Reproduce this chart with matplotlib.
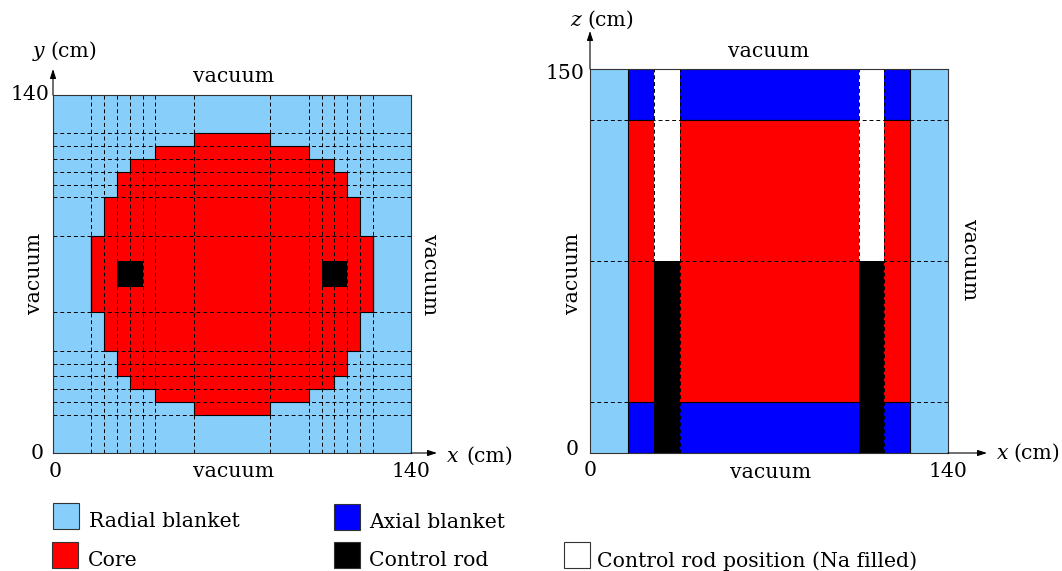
import matplotlib
matplotlib.use("Agg")
import matplotlib.pyplot as plt
from matplotlib.patches import Polygon, Rectangle

plt.rcParams["font.family"] = ["DejaVu Serif"]

W, H = 1062, 571

# geometry in cm
grid_xy = [15, 20, 25, 30, 35, 40, 55, 85, 100, 105, 110, 115, 120, 125]
step_x = [15, 20, 25, 30, 40, 55]      # core outline, one quadrant
step_y = [85, 100, 110, 115, 120, 125]
core_low = 55
rod_left = [25, 105]
rod_y = [65, 75]
rod_w = 10
size_xy = 140
size_z = 150
grid_xz = [15, 25, 35, 105, 115, 125]
grid_z = [20, 75, 130]

c_radial = "#87cefa"
c_axial = "#0000ff"
c_core = "#ff0000"
c_rod = "#000000"
c_na = "#ffffff"

legend_names = ["Radial blanket", "Core", "Axial blanket", "Control rod",
                "Control rod position (Na filled)"]
legend_colors = [c_radial, c_core, c_axial, c_rod, c_na]
legend_pos = [(53, 503), (52, 542), (334, 504), (334, 542), (564, 542)]
legend_text = [(89, 527), (88, 566), (369, 528), (369, 566), (597, 567)]

dash = (0, (4, 3))


def make_ax(left, top, right, bottom):
    ax = fig.add_axes([left / W, 1 - bottom / H, (right - left) / W, (bottom - top) / H])
    ax.set_xticks([])
    ax.set_yticks([])
    for s in ax.spines.values():
        s.set_linewidth(0.8)
        s.set_color("#333333")
    return ax


def arrow(x0, y0, x1, y1):
    over.annotate("", xy=(x1, y1), xytext=(x0, y0),
                  arrowprops=dict(arrowstyle="-|>,head_length=0.55,head_width=0.18", color="black",
                                  lw=0.8, shrinkA=0, shrinkB=0))


fig = plt.figure(figsize=(W / 100, H / 100), dpi=100)

# x-y section
ax1 = make_ax(53, 95, 411, 453)
ax1.set_xlim(0, size_xy)
ax1.set_ylim(0, size_xy)
ax1.set_facecolor(c_radial)

# build the core outline from the quadrant steps
xs, ys = [], []
for x, y, prev in zip(step_x, step_y, [core_low] + step_y[:-1]):
    xs += [x, x]
    ys += [prev, y]
quad = list(zip(xs, ys))
outline = quad + [(size_xy - x, y) for x, y in reversed(quad)]
outline += [(size_xy - x, size_xy - y) for x, y in quad]
outline += [(x, size_xy - y) for x, y in reversed(quad)]
ax1.add_patch(Polygon(outline, closed=True, fc=c_core, ec="black", lw=0.8, zorder=1))

for g in grid_xy:
    ax1.axvline(g, color="black", lw=0.7, ls=dash, zorder=2)
    ax1.axhline(g, color="black", lw=0.7, ls=dash, zorder=2)
for x in rod_left:
    ax1.add_patch(Rectangle((x, rod_y[0]), rod_w, rod_y[1] - rod_y[0], fc=c_rod, ec="none", zorder=3))

# x-z section
ax2 = make_ax(590, 69, 948, 453)
ax2.set_xlim(0, size_xy)
ax2.set_ylim(0, size_z)
ax2.set_facecolor(c_radial)

x_in, x_out = grid_xz[0], grid_xz[-1]
z_lo, z_mid, z_hi = grid_z
ax2.add_patch(Rectangle((x_in, 0), x_out - x_in, z_lo, fc=c_axial, ec="black", lw=0.8, zorder=1))
ax2.add_patch(Rectangle((x_in, z_hi), x_out - x_in, size_z - z_hi, fc=c_axial, ec="black", lw=0.8, zorder=1))
ax2.add_patch(Rectangle((x_in, z_lo), x_out - x_in, z_hi - z_lo, fc=c_core, ec="black", lw=0.8, zorder=1))
for x in rod_left:
    ax2.add_patch(Rectangle((x, z_mid), rod_w, size_z - z_mid, fc=c_na, ec="none", zorder=1.5))
    ax2.add_patch(Rectangle((x, 0), rod_w, z_mid, fc=c_rod, ec="none", zorder=3))
for g in grid_xz:
    ax2.axvline(g, color="black", lw=0.7, ls=dash, zorder=2)
for g in grid_z:
    ax2.axhline(g, color="black", lw=0.7, ls=dash, zorder=2)

# overlay in pixels for the labels, arrows and the legend
over = fig.add_axes([0, 0, 1, 1], facecolor="none")
over.set_xlim(0, W)
over.set_ylim(H, 0)
over.axis("off")

arrow(53, 95, 53, 69)
arrow(411, 453, 437, 453)
arrow(590, 69, 590, 31)
arrow(948, 453, 987, 453)

fs = 14.7
for x, y, s in [(234, 82, "vacuum"), (234, 477, "vacuum"), (769, 57, "vacuum"), (771, 478, "vacuum")]:
    over.text(x, y, s, fontsize=fs, ha="center", va="baseline")
for x, y, rot in [(34, 273, 90), (430, 275, 270), (572, 273, 90), (969, 260, 270)]:
    over.text(x, y, "vacuum", fontsize=fs, rotation=rot, ha="center", va="center")

for x, y, s, ha in [(49, 100, "140", "right"), (44, 459, "0", "right"), (55, 477, "0", "center"), (411, 477, "140", "center"),
                    (584, 79, "150", "right"), (579, 455, "0", "right"), (590, 476, "0", "center"), (948, 477, "140", "center")]:
    over.text(x, y, s, fontsize=fs, ha=ha, va="baseline")

for x, xc, y, var in [(33, 50, 57, "y"), (570, 587, 26, "z"), (447, 466, 462, "x"), (997, 1013, 459, "x")]:
    over.text(x, y, var, fontsize=fs, style="italic", ha="left", va="baseline")
    over.text(xc, y, "(cm)", fontsize=fs, ha="left", va="baseline")

for name, col, pos, tpos in zip(legend_names, legend_colors, legend_pos, legend_text):
    over.add_patch(Rectangle(pos, 26, 26, fc=col, ec="#333333", lw=0.8))
    over.text(tpos[0], tpos[1], name, fontsize=fs, ha="left", va="baseline")

fig.savefig("out.png", dpi=100)
